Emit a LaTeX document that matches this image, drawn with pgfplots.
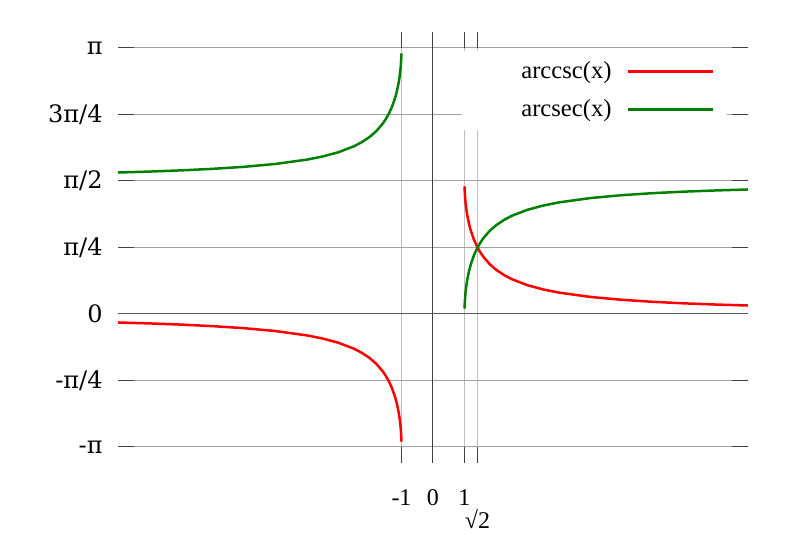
\documentclass[border=0pt]{standalone}
\usepackage{fontspec}
\setmainfont{Liberation Serif}
\newfontfamily\dejaserif{DejaVu Serif}
\usepackage{pgfplots}
\pgfplotsset{compat=1.18}
\definecolor{gridh}{gray}{0.63}
\definecolor{gridv}{gray}{0.75}
\definecolor{tickc}{gray}{0.25}
\definecolor{cscred}{RGB}{255,0,0}
\definecolor{secgreen}{RGB}{0,128,0}
\begin{document}
\fontsize{12}{14}\selectfont
\begin{tikzpicture}
\path[use as bounding box] (-59pt,-44pt) rectangle (341pt,223.5pt);
\begin{axis}[
  at={(0,0)}, anchor=south west,
  scale only axis, width=315pt, height=199.5pt,
  xmin=-10, xmax=10, ymin=-1.570796, ymax=3.141593,
  axis line style={draw=none},
  xtick={-1,0,1}, xticklabels={-1,0,1},
  extra x ticks={1.414214}, extra x tick labels={√2},
  extra x tick style={xticklabel style={yshift=-10pt}},
  ytick={-1.570796,-0.785398,0,0.785398,1.570796,2.356194,3.141593},
  yticklabels={-π,-π/4,0,π/4,π/2,3π/4,π},
  yticklabel style={font=\dejaserif\fontsize{12}{14}\selectfont, xshift=-3.5pt},
  xticklabel style={font=\fontsize{12}{14}\selectfont, yshift=-9pt},
  xtick align=outside, ytick align=inside,
  major tick length=8pt,
  major tick style={tickc, line width=0.5pt},
  grid=major,
  x grid style={gridv, line width=0.5pt},
  y grid style={gridh, line width=0.5pt},
  legend plot pos=right,
  legend cell align=left,
  legend image code/.code={\draw[#1] (6pt,0pt) -- (48.5pt,0pt);},
  legend style={at={(rel axis cs:0.546,0.9925)}, anchor=north west,
    fill=white, draw=none, inner xsep=6.5pt, inner ysep=3pt, row sep=4.5pt,
    font=\fontsize{12.3}{14}\selectfont},
]
\draw[tickc, line width=0.5pt] (axis cs:0,-1.570796) -- (axis cs:0,3.141593);
\draw[gray!70!black, line width=0.5pt] (axis cs:-10,0) -- (axis cs:10,0);

\addplot[cscred, line width=1.25pt, line join=round] coordinates {
(1.002,1.5076) (1.003,1.4934) (1.005,1.4710) (1.01,1.4300) (1.02,1.3724)
(1.03,1.3288) (1.05,1.2609) (1.075,1.1947) (1.1,1.1411) (1.15,1.0543)
(1.2,0.9851) (1.3,0.8771) (1.4,0.7956) (1.5,0.7297) (1.6,0.6751)
(1.8,0.5890) (2,0.5236) (2.25,0.4606) (2.5,0.4115) (3,0.3398)
(3.5,0.2898) (4,0.2527) (5,0.2014) (6,0.1674) (7,0.1433)
(8,0.1253) (9,0.1113) (10,0.1002)
};
\addlegendentry{\hspace*{21pt}arccsc(x)\hspace*{5.5pt}}
\addplot[cscred, line width=1.25pt, line join=round, forget plot] coordinates {
(-1.002,-1.5076) (-1.003,-1.4934) (-1.005,-1.4710) (-1.01,-1.4300) (-1.02,-1.3724)
(-1.03,-1.3288) (-1.05,-1.2609) (-1.075,-1.1947) (-1.1,-1.1411) (-1.15,-1.0543)
(-1.2,-0.9851) (-1.3,-0.8771) (-1.4,-0.7956) (-1.5,-0.7297) (-1.6,-0.6751)
(-1.8,-0.5890) (-2,-0.5236) (-2.25,-0.4606) (-2.5,-0.4115) (-3,-0.3398)
(-3.5,-0.2898) (-4,-0.2527) (-5,-0.2014) (-6,-0.1674) (-7,-0.1433)
(-8,-0.1253) (-9,-0.1113) (-10,-0.1002)
};
\addplot[secgreen, line width=1.25pt, line join=round] coordinates {
(1.002,0.0632) (1.003,0.0774) (1.005,0.0998) (1.01,0.1408) (1.02,0.1984)
(1.03,0.2420) (1.05,0.3099) (1.075,0.3761) (1.1,0.4297) (1.15,0.5165)
(1.2,0.5857) (1.3,0.6937) (1.4,0.7752) (1.5,0.8411) (1.6,0.8957)
(1.8,0.9818) (2,1.0472) (2.25,1.1102) (2.5,1.1593) (3,1.2310)
(3.5,1.2810) (4,1.3181) (5,1.3694) (6,1.4034) (7,1.4275)
(8,1.4455) (9,1.4595) (10,1.4706)
};
\addlegendentry{\hspace*{21pt}arcsec(x)\hspace*{5.5pt}}
\addplot[secgreen, line width=1.25pt, line join=round, forget plot] coordinates {
(-1.002,3.0784) (-1.003,3.0642) (-1.005,3.0418) (-1.01,3.0008) (-1.02,2.9432)
(-1.03,2.8996) (-1.05,2.8317) (-1.075,2.7655) (-1.1,2.7119) (-1.15,2.6251)
(-1.2,2.5559) (-1.3,2.4479) (-1.4,2.3664) (-1.5,2.3005) (-1.6,2.2459)
(-1.8,2.1598) (-2,2.0944) (-2.25,2.0314) (-2.5,1.9823) (-3,1.9106)
(-3.5,1.8606) (-4,1.8235) (-5,1.7722) (-6,1.7382) (-7,1.7141)
(-8,1.6961) (-9,1.6821) (-10,1.6710)
};
\end{axis}
\end{tikzpicture}
\end{document}
